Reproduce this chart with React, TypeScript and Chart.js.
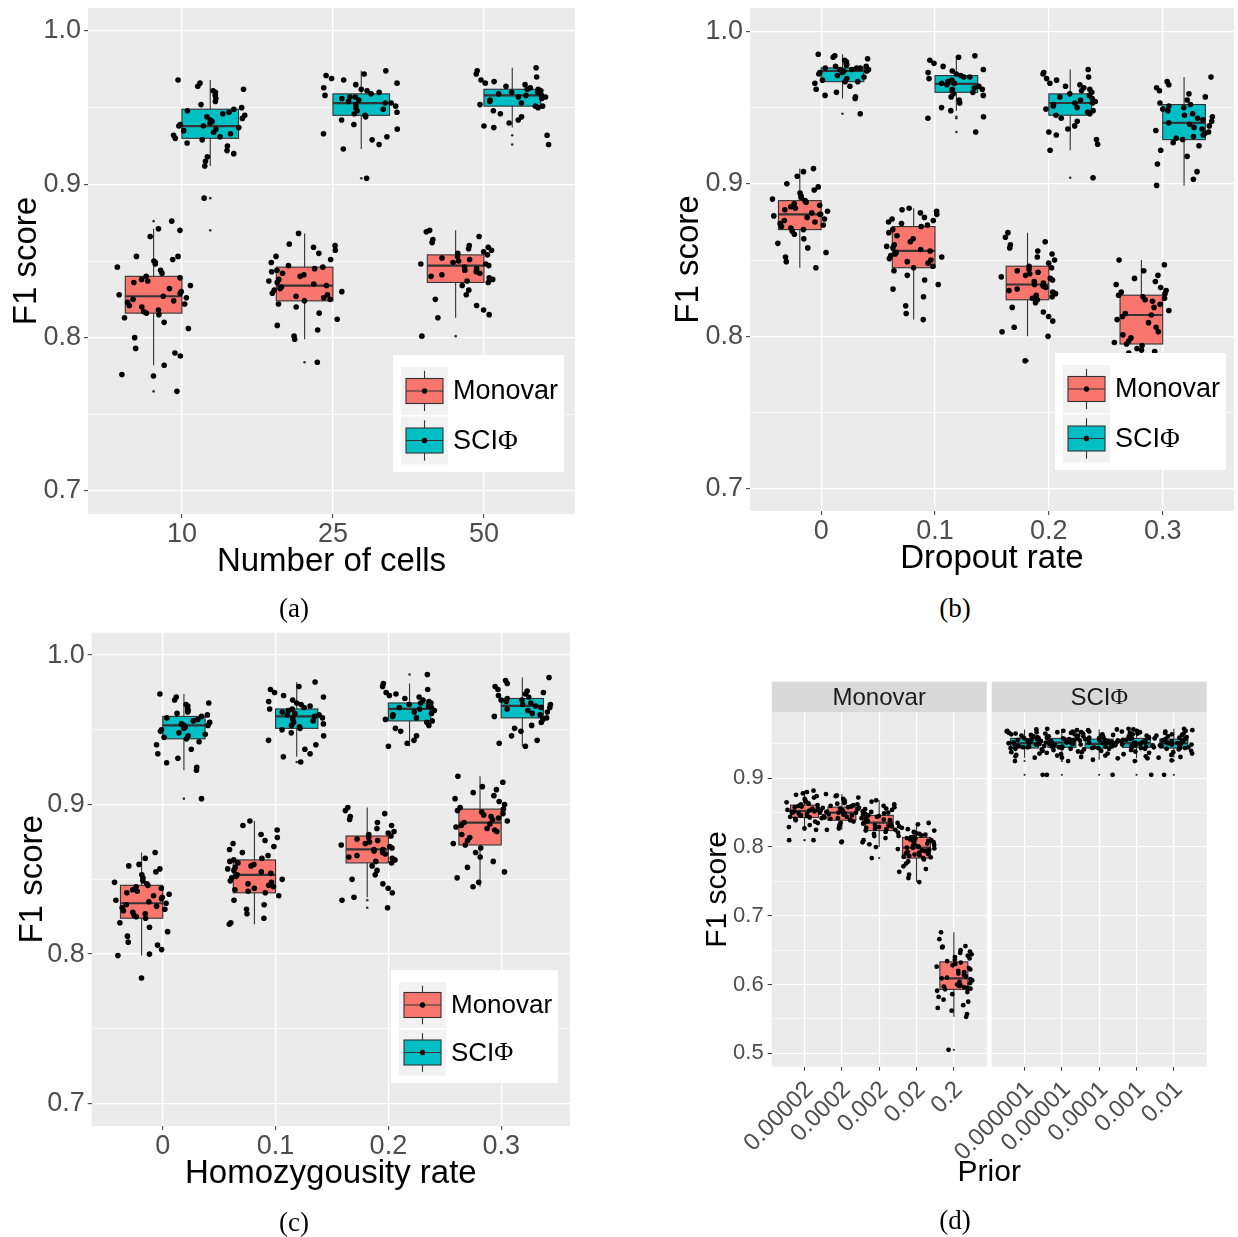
import React, { useEffect, useRef } from "react";
import { Chart, registerables } from "chart.js";

Chart.register(...registerables);

// ---------------- data ----------------
const methodNames = ["Monovar", "SCIΦ"];

// (a) number of cells
const cellCategories = ["10", "25", "50"];
// box stats: [lower whisker, Q1, median, Q3, upper whisker]
const cellsMonovarStats = [
  [0.782, 0.816, 0.827, 0.840, 0.871],
  [0.799, 0.824, 0.834, 0.846, 0.868],
  [0.813, 0.836, 0.847, 0.854, 0.870],
];
const cellsMonovarOutliers = [[0.876, 0.776, 0.775, 0.765], [0.784], [0.801]];
const cellsMonovarPoints = [
  [0.876, 0.871, 0.866, 0.853, 0.853, 0.851, 0.850, 0.849, 0.848, 0.846, 0.844, 0.842, 0.840, 0.839, 0.838, 0.837, 0.836, 0.834, 0.832, 0.830, 0.829, 0.828, 0.827, 0.826, 0.825, 0.824, 0.823, 0.822, 0.821, 0.820, 0.818, 0.817, 0.816, 0.815, 0.813, 0.810, 0.806, 0.800, 0.793, 0.790, 0.788, 0.782, 0.776, 0.775, 0.765],
  [0.868, 0.861, 0.860, 0.859, 0.857, 0.855, 0.853, 0.851, 0.849, 0.847, 0.846, 0.845, 0.844, 0.843, 0.842, 0.841, 0.840, 0.838, 0.837, 0.836, 0.835, 0.834, 0.833, 0.832, 0.831, 0.830, 0.829, 0.828, 0.827, 0.826, 0.825, 0.824, 0.822, 0.820, 0.816, 0.812, 0.808, 0.805, 0.801, 0.799, 0.784],
  [0.870, 0.869, 0.866, 0.864, 0.862, 0.860, 0.859, 0.858, 0.857, 0.856, 0.855, 0.854, 0.853, 0.852, 0.851, 0.850, 0.849, 0.848, 0.848, 0.847, 0.846, 0.845, 0.844, 0.843, 0.842, 0.841, 0.840, 0.839, 0.838, 0.837, 0.836, 0.834, 0.831, 0.828, 0.825, 0.821, 0.818, 0.815, 0.813, 0.801],
];
const cellsSciphiStats = [
  [0.912, 0.930, 0.938, 0.949, 0.968],
  [0.923, 0.945, 0.953, 0.959, 0.974],
  [0.937, 0.951, 0.958, 0.962, 0.976],
];
const cellsSciphiOutliers = [[0.891, 0.870], [0.904], [0.932, 0.926]];
const cellsSciphiPoints = [
  [0.968, 0.966, 0.964, 0.962, 0.961, 0.960, 0.958, 0.956, 0.954, 0.952, 0.950, 0.949, 0.948, 0.947, 0.946, 0.945, 0.944, 0.943, 0.942, 0.941, 0.940, 0.939, 0.938, 0.938, 0.937, 0.936, 0.935, 0.934, 0.933, 0.932, 0.931, 0.930, 0.929, 0.927, 0.925, 0.922, 0.920, 0.918, 0.915, 0.912, 0.891, 0.870],
  [0.974, 0.972, 0.971, 0.969, 0.968, 0.966, 0.965, 0.963, 0.962, 0.961, 0.960, 0.959, 0.958, 0.957, 0.957, 0.956, 0.955, 0.954, 0.953, 0.953, 0.952, 0.951, 0.950, 0.949, 0.948, 0.947, 0.946, 0.945, 0.944, 0.942, 0.939, 0.936, 0.933, 0.931, 0.929, 0.926, 0.923, 0.904],
  [0.976, 0.974, 0.972, 0.970, 0.968, 0.967, 0.966, 0.965, 0.964, 0.963, 0.962, 0.962, 0.961, 0.960, 0.960, 0.959, 0.958, 0.958, 0.957, 0.957, 0.956, 0.955, 0.954, 0.953, 0.952, 0.951, 0.951, 0.950, 0.948, 0.946, 0.944, 0.942, 0.940, 0.938, 0.937, 0.932, 0.926],
];

// (b) dropout rate
const dropoutCategories = ["0", "0.1", "0.2", "0.3"];
const dropoutMonovarStats = [
  [0.845, 0.870, 0.880, 0.889, 0.910],
  [0.811, 0.845, 0.856, 0.872, 0.884],
  [0.800, 0.824, 0.834, 0.846, 0.868],
  [0.772, 0.795, 0.814, 0.827, 0.850],
];
const dropoutMonovarOutliers = [[], [], [0.784], []];
const dropoutMonovarPoints = [
  [0.910, 0.908, 0.905, 0.900, 0.898, 0.896, 0.894, 0.892, 0.891, 0.890, 0.889, 0.888, 0.887, 0.886, 0.885, 0.884, 0.883, 0.882, 0.881, 0.880, 0.880, 0.879, 0.878, 0.877, 0.876, 0.875, 0.874, 0.873, 0.872, 0.871, 0.870, 0.869, 0.867, 0.864, 0.861, 0.858, 0.855, 0.852, 0.849, 0.845],
  [0.884, 0.883, 0.882, 0.881, 0.880, 0.878, 0.877, 0.876, 0.875, 0.874, 0.873, 0.872, 0.870, 0.868, 0.866, 0.864, 0.862, 0.860, 0.859, 0.858, 0.857, 0.856, 0.855, 0.854, 0.853, 0.852, 0.851, 0.850, 0.849, 0.848, 0.846, 0.845, 0.843, 0.840, 0.837, 0.834, 0.831, 0.826, 0.820, 0.815, 0.811],
  [0.868, 0.865, 0.862, 0.860, 0.858, 0.856, 0.854, 0.852, 0.850, 0.848, 0.846, 0.845, 0.844, 0.843, 0.842, 0.841, 0.840, 0.839, 0.838, 0.837, 0.836, 0.835, 0.834, 0.833, 0.832, 0.831, 0.830, 0.829, 0.828, 0.827, 0.826, 0.825, 0.824, 0.822, 0.819, 0.816, 0.813, 0.810, 0.806, 0.803, 0.800, 0.784],
  [0.850, 0.847, 0.843, 0.840, 0.838, 0.836, 0.834, 0.832, 0.830, 0.829, 0.828, 0.827, 0.826, 0.825, 0.824, 0.823, 0.821, 0.819, 0.817, 0.815, 0.814, 0.813, 0.811, 0.809, 0.806, 0.803, 0.801, 0.799, 0.797, 0.796, 0.795, 0.794, 0.792, 0.791, 0.790, 0.789, 0.786, 0.782, 0.778, 0.772],
];
const dropoutSciphiStats = [
  [0.956, 0.967, 0.974, 0.976, 0.985],
  [0.948, 0.960, 0.9655, 0.971, 0.984],
  [0.922, 0.945, 0.953, 0.959, 0.975],
  [0.899, 0.929, 0.940, 0.952, 0.970],
];
const dropoutSciphiOutliers = [[0.946], [0.944, 0.943, 0.934], [0.904], []];
const dropoutSciphiPoints = [
  [0.985, 0.984, 0.983, 0.982, 0.981, 0.980, 0.979, 0.978, 0.978, 0.977, 0.977, 0.976, 0.976, 0.976, 0.975, 0.975, 0.975, 0.974, 0.974, 0.974, 0.973, 0.973, 0.972, 0.971, 0.970, 0.969, 0.968, 0.967, 0.967, 0.966, 0.964, 0.962, 0.960, 0.958, 0.957, 0.956, 0.946],
  [0.984, 0.983, 0.981, 0.979, 0.977, 0.975, 0.974, 0.973, 0.972, 0.971, 0.970, 0.970, 0.969, 0.968, 0.967, 0.966, 0.966, 0.965, 0.964, 0.963, 0.962, 0.962, 0.961, 0.960, 0.959, 0.958, 0.957, 0.955, 0.953, 0.950, 0.948, 0.944, 0.943, 0.934],
  [0.975, 0.973, 0.972, 0.970, 0.969, 0.968, 0.966, 0.965, 0.964, 0.963, 0.962, 0.961, 0.960, 0.959, 0.958, 0.957, 0.956, 0.955, 0.954, 0.953, 0.953, 0.952, 0.951, 0.950, 0.949, 0.948, 0.947, 0.946, 0.945, 0.943, 0.941, 0.938, 0.936, 0.934, 0.932, 0.929, 0.926, 0.922, 0.904],
  [0.970, 0.967, 0.965, 0.963, 0.961, 0.959, 0.957, 0.955, 0.953, 0.952, 0.951, 0.950, 0.949, 0.948, 0.946, 0.945, 0.944, 0.943, 0.942, 0.941, 0.940, 0.939, 0.938, 0.937, 0.936, 0.935, 0.934, 0.933, 0.932, 0.931, 0.930, 0.929, 0.927, 0.925, 0.922, 0.918, 0.913, 0.908, 0.903, 0.899],
];

// (c) homozygousity rate
const homoCategories = ["0", "0.1", "0.2", "0.3"];
const homoMonovarStats = [
  [0.799, 0.824, 0.834, 0.846, 0.868],
  [0.820, 0.841, 0.853, 0.863, 0.889],
  [0.838, 0.861, 0.870, 0.879, 0.898],
  [0.845, 0.873, 0.888, 0.897, 0.919],
];
const homoMonovarOutliers = [[0.784], [], [0.836, 0.831], []];
const homoMonovarPoints = [
  [0.868, 0.864, 0.860, 0.859, 0.857, 0.855, 0.853, 0.851, 0.849, 0.848, 0.847, 0.846, 0.845, 0.844, 0.843, 0.842, 0.841, 0.840, 0.839, 0.838, 0.837, 0.836, 0.835, 0.834, 0.833, 0.832, 0.831, 0.830, 0.829, 0.828, 0.827, 0.826, 0.825, 0.824, 0.821, 0.818, 0.815, 0.812, 0.808, 0.806, 0.803, 0.800, 0.799, 0.784],
  [0.889, 0.886, 0.883, 0.880, 0.878, 0.876, 0.874, 0.872, 0.870, 0.868, 0.866, 0.864, 0.863, 0.862, 0.861, 0.860, 0.859, 0.858, 0.857, 0.856, 0.855, 0.854, 0.853, 0.852, 0.851, 0.850, 0.849, 0.848, 0.847, 0.846, 0.845, 0.844, 0.843, 0.842, 0.841, 0.839, 0.836, 0.833, 0.830, 0.827, 0.824, 0.821, 0.820],
  [0.898, 0.896, 0.894, 0.892, 0.890, 0.888, 0.886, 0.884, 0.882, 0.881, 0.880, 0.879, 0.878, 0.877, 0.876, 0.875, 0.874, 0.873, 0.872, 0.871, 0.870, 0.870, 0.869, 0.868, 0.867, 0.866, 0.865, 0.864, 0.863, 0.862, 0.861, 0.859, 0.856, 0.853, 0.850, 0.847, 0.844, 0.841, 0.838, 0.836, 0.831],
  [0.919, 0.915, 0.912, 0.910, 0.908, 0.906, 0.904, 0.902, 0.900, 0.898, 0.897, 0.896, 0.895, 0.894, 0.893, 0.892, 0.891, 0.890, 0.889, 0.888, 0.887, 0.886, 0.885, 0.884, 0.883, 0.882, 0.880, 0.878, 0.876, 0.874, 0.873, 0.871, 0.868, 0.865, 0.862, 0.858, 0.855, 0.851, 0.848, 0.845],
];
const homoSciphiStats = [
  [0.923, 0.944, 0.953, 0.959, 0.974],
  [0.932, 0.951, 0.959, 0.964, 0.982],
  [0.939, 0.956, 0.964, 0.968, 0.981],
  [0.939, 0.958, 0.966, 0.971, 0.985],
];
const homoSciphiOutliers = [[0.904], [0.9285], [0.987], []];
const homoSciphiPoints = [
  [0.974, 0.972, 0.970, 0.968, 0.967, 0.966, 0.964, 0.963, 0.962, 0.961, 0.960, 0.959, 0.958, 0.957, 0.956, 0.955, 0.954, 0.953, 0.953, 0.952, 0.951, 0.950, 0.949, 0.948, 0.947, 0.946, 0.945, 0.944, 0.942, 0.940, 0.937, 0.934, 0.931, 0.928, 0.925, 0.923, 0.904],
  [0.982, 0.979, 0.977, 0.975, 0.973, 0.972, 0.970, 0.969, 0.968, 0.967, 0.966, 0.965, 0.964, 0.964, 0.963, 0.962, 0.961, 0.960, 0.960, 0.959, 0.958, 0.958, 0.957, 0.956, 0.955, 0.954, 0.953, 0.952, 0.951, 0.950, 0.948, 0.946, 0.943, 0.940, 0.937, 0.934, 0.932, 0.9285],
  [0.987, 0.981, 0.979, 0.977, 0.975, 0.974, 0.973, 0.972, 0.971, 0.970, 0.969, 0.968, 0.968, 0.967, 0.966, 0.965, 0.965, 0.964, 0.963, 0.962, 0.961, 0.960, 0.959, 0.958, 0.957, 0.956, 0.955, 0.953, 0.951, 0.949, 0.946, 0.943, 0.941, 0.939],
  [0.985, 0.983, 0.981, 0.979, 0.977, 0.976, 0.975, 0.974, 0.973, 0.972, 0.971, 0.970, 0.970, 0.969, 0.968, 0.967, 0.967, 0.966, 0.965, 0.965, 0.964, 0.963, 0.962, 0.961, 0.960, 0.959, 0.958, 0.957, 0.955, 0.953, 0.951, 0.949, 0.946, 0.943, 0.941, 0.939],
];

// (d) prior
const monovarPriorCategories = ["0.00002", "0.0002", "0.002", "0.02", "0.2"];
const sciphiPriorCategories = ["0.000001", "0.00001", "0.0001", "0.001", "0.01"];
const priorMonovarStats = [
  [0.825, 0.843, 0.8525, 0.861, 0.882],
  [0.825, 0.839, 0.850, 0.858, 0.877],
  [0.800, 0.824, 0.8355, 0.846, 0.868],
  [0.749, 0.784, 0.799, 0.814, 0.835],
  [0.553, 0.593, 0.609, 0.633, 0.676],
];
const priorMonovarOutliers = [[0.810, 0.810], [0.808, 0.807], [0.784], [], [0.505]];
const priorMonovarPoints = [
  [0.882, 0.880, 0.878, 0.876, 0.874, 0.872, 0.870, 0.868, 0.866, 0.865, 0.864, 0.863, 0.862, 0.861, 0.860, 0.859, 0.858, 0.857, 0.856, 0.855, 0.855, 0.854, 0.853, 0.853, 0.852, 0.852, 0.851, 0.850, 0.850, 0.849, 0.848, 0.847, 0.846, 0.845, 0.844, 0.843, 0.842, 0.841, 0.839, 0.837, 0.835, 0.832, 0.829, 0.827, 0.825, 0.810, 0.810],
  [0.877, 0.875, 0.874, 0.872, 0.870, 0.868, 0.866, 0.865, 0.864, 0.863, 0.862, 0.861, 0.860, 0.859, 0.858, 0.857, 0.856, 0.855, 0.854, 0.853, 0.852, 0.851, 0.851, 0.850, 0.850, 0.849, 0.848, 0.847, 0.846, 0.845, 0.844, 0.843, 0.842, 0.841, 0.840, 0.839, 0.837, 0.835, 0.832, 0.829, 0.827, 0.825, 0.808, 0.807],
  [0.868, 0.866, 0.862, 0.860, 0.858, 0.856, 0.855, 0.854, 0.852, 0.851, 0.850, 0.849, 0.848, 0.847, 0.846, 0.845, 0.844, 0.843, 0.842, 0.841, 0.840, 0.839, 0.838, 0.837, 0.836, 0.835, 0.834, 0.833, 0.832, 0.831, 0.830, 0.829, 0.828, 0.827, 0.826, 0.825, 0.824, 0.822, 0.819, 0.816, 0.813, 0.810, 0.807, 0.804, 0.800, 0.784],
  [0.835, 0.833, 0.830, 0.828, 0.826, 0.824, 0.822, 0.821, 0.820, 0.819, 0.818, 0.817, 0.816, 0.815, 0.814, 0.813, 0.812, 0.811, 0.810, 0.809, 0.808, 0.807, 0.806, 0.805, 0.804, 0.803, 0.802, 0.801, 0.800, 0.799, 0.799, 0.798, 0.797, 0.796, 0.795, 0.794, 0.793, 0.792, 0.791, 0.790, 0.789, 0.788, 0.787, 0.786, 0.785, 0.784, 0.782, 0.779, 0.776, 0.772, 0.768, 0.764, 0.760, 0.755, 0.749],
  [0.676, 0.666, 0.656, 0.655, 0.654, 0.650, 0.648, 0.646, 0.644, 0.642, 0.640, 0.638, 0.636, 0.634, 0.632, 0.630, 0.628, 0.626, 0.624, 0.622, 0.620, 0.618, 0.616, 0.614, 0.612, 0.610, 0.609, 0.608, 0.606, 0.604, 0.602, 0.600, 0.599, 0.598, 0.597, 0.596, 0.595, 0.594, 0.593, 0.591, 0.589, 0.586, 0.582, 0.578, 0.575, 0.570, 0.566, 0.562, 0.557, 0.553, 0.505],
];
const priorSciphiStats = [
  [0.930, 0.944, 0.951, 0.958, 0.971],
  [0.930, 0.945, 0.952, 0.958, 0.972],
  [0.927, 0.944, 0.950, 0.957, 0.971],
  [0.929, 0.945, 0.951, 0.958, 0.972],
  [0.930, 0.944, 0.951, 0.957, 0.972],
];
const priorSciphiOutliers = [[0.925, 0.905], [0.925, 0.905], [0.905], [0.925, 0.905], [0.926, 0.905]];
const priorSciphiPoints = [
  [0.971, 0.969, 0.968, 0.967, 0.966, 0.965, 0.964, 0.963, 0.962, 0.961, 0.960, 0.959, 0.958, 0.958, 0.957, 0.956, 0.956, 0.955, 0.954, 0.954, 0.953, 0.952, 0.952, 0.951, 0.951, 0.950, 0.949, 0.949, 0.948, 0.947, 0.946, 0.945, 0.945, 0.944, 0.943, 0.942, 0.940, 0.938, 0.936, 0.934, 0.932, 0.930, 0.925, 0.905],
  [0.972, 0.970, 0.969, 0.968, 0.967, 0.966, 0.965, 0.964, 0.962, 0.961, 0.960, 0.959, 0.958, 0.958, 0.957, 0.957, 0.956, 0.955, 0.955, 0.954, 0.953, 0.953, 0.952, 0.952, 0.951, 0.950, 0.950, 0.949, 0.948, 0.947, 0.946, 0.946, 0.945, 0.944, 0.943, 0.941, 0.939, 0.937, 0.935, 0.933, 0.930, 0.925, 0.905],
  [0.971, 0.970, 0.968, 0.967, 0.965, 0.964, 0.963, 0.962, 0.961, 0.960, 0.959, 0.958, 0.957, 0.957, 0.956, 0.955, 0.955, 0.954, 0.953, 0.953, 0.952, 0.951, 0.951, 0.950, 0.950, 0.949, 0.948, 0.948, 0.947, 0.946, 0.945, 0.944, 0.944, 0.943, 0.942, 0.940, 0.938, 0.936, 0.933, 0.931, 0.929, 0.927, 0.905],
  [0.972, 0.971, 0.969, 0.968, 0.967, 0.966, 0.965, 0.964, 0.963, 0.962, 0.961, 0.960, 0.959, 0.958, 0.958, 0.957, 0.956, 0.956, 0.955, 0.954, 0.954, 0.953, 0.952, 0.952, 0.951, 0.951, 0.950, 0.949, 0.948, 0.948, 0.947, 0.946, 0.945, 0.945, 0.944, 0.943, 0.941, 0.939, 0.937, 0.935, 0.932, 0.929, 0.925, 0.905],
  [0.972, 0.970, 0.969, 0.968, 0.966, 0.965, 0.964, 0.963, 0.962, 0.961, 0.960, 0.959, 0.958, 0.957, 0.957, 0.956, 0.955, 0.955, 0.954, 0.953, 0.952, 0.952, 0.951, 0.951, 0.950, 0.949, 0.949, 0.948, 0.947, 0.946, 0.945, 0.944, 0.944, 0.943, 0.942, 0.940, 0.938, 0.936, 0.934, 0.931, 0.930, 0.926, 0.905],
];

const yTicksMain = [0.7, 0.75, 0.8, 0.85, 0.9, 0.95, 1.0];
const yTicksPrior = [0.5, 0.55, 0.6, 0.65, 0.7, 0.75, 0.8, 0.85, 0.9, 0.95];

// ---------------- styling / layout ----------------
const MONOVAR_FILL = "#F8766D";
const SCIPHI_FILL = "#00BFC4";
const SANS = "'Liberation Sans', Arial, sans-serif";
const SERIF = "'Liberation Serif', 'DejaVu Serif', serif";
const PANEL_BG = "#EBEBEB";

interface Group {
  x: number;
  width: number;
  fill: string;
  stats: number[];
  outliers: number[];
  points: number[];
}

interface PanelSpec {
  key: string;
  left: number; top: number; width: number; height: number;
  padding: { left: number; top: number; right: number; bottom: number };
  yAxisWidth: number; xAxisHeight: number;
  xMin: number; xMax: number; xTicks: number[]; xLabels: string[];
  yMin: number; yMax: number; yTicks: number[];
  xTitle: string; yTitle: string;
  titleSize: number; xTitlePad: number; yTitlePad: number;
  tickSize: number; xTickSize: number; xTickPad: number; yTickPad: number; xRotation: number; xLabelOffset: number;
  groups: Group[]; jitter: number; pointRadius: number; outlierRadius: number;
  majorWidth: number; minorWidth: number;
  legend?: { x: number; y: number; w: number; h: number; fontSize: number };
  facets?: { from: number; to: number; label: string }[];
  stripHeight?: number;
}

function dodged(
  n: number,
  mS: number[][], mO: number[][], mP: number[][],
  sS: number[][], sO: number[][], sP: number[][]
): Group[] {
  const out: Group[] = [];
  for (let i = 0; i < n; i++) {
    out.push({ x: i + 1 - 0.1875, width: 0.375, fill: MONOVAR_FILL, stats: mS[i], outliers: mO[i], points: mP[i] });
    out.push({ x: i + 1 + 0.1875, width: 0.375, fill: SCIPHI_FILL, stats: sS[i], outliers: sO[i], points: sP[i] });
  }
  return out;
}

const SCI_FACET_SHIFT = 5.894;
const priorTicks = [1, 2, 3, 4, 5, 1 + SCI_FACET_SHIFT, 2 + SCI_FACET_SHIFT, 3 + SCI_FACET_SHIFT, 4 + SCI_FACET_SHIFT, 5 + SCI_FACET_SHIFT];

function priorGroups(): Group[] {
  const out: Group[] = [];
  for (let i = 0; i < 5; i++) {
    out.push({ x: i + 1, width: 0.75, fill: MONOVAR_FILL, stats: priorMonovarStats[i], outliers: priorMonovarOutliers[i], points: priorMonovarPoints[i] });
  }
  for (let i = 0; i < 5; i++) {
    out.push({ x: i + 1 + SCI_FACET_SHIFT, width: 0.75, fill: SCIPHI_FILL, stats: priorSciphiStats[i], outliers: priorSciphiOutliers[i], points: priorSciphiPoints[i] });
  }
  return out;
}

const panels: PanelSpec[] = [
  {
    key: "a", left: 0, top: 0, width: 580, height: 592,
    padding: { left: 0, top: 8, right: 5, bottom: 0 },
    yAxisWidth: 88, xAxisHeight: 78,
    xMin: 0.378, xMax: 3.603, xTicks: [1, 2, 3], xLabels: cellCategories,
    yMin: 0.685, yMax: 1.015, yTicks: yTicksMain,
    xTitle: "Number of cells", yTitle: "F1 score",
    titleSize: 33, xTitlePad: 10, yTitlePad: 7,
    tickSize: 27, xTickSize: 27, xTickPad: 0, yTickPad: 3, xRotation: 0, xLabelOffset: 0,
    groups: dodged(3, cellsMonovarStats, cellsMonovarOutliers, cellsMonovarPoints, cellsSciphiStats, cellsSciphiOutliers, cellsSciphiPoints),
    jitter: 0.25, pointRadius: 2.8, outlierRadius: 1.3, majorWidth: 1.3, minorWidth: 0.65,
    legend: { x: 393, y: 355, w: 171, h: 117, fontSize: 27 },
  },
  {
    key: "b", left: 662, top: 0, width: 576, height: 592,
    padding: { left: 0, top: 8, right: 0, bottom: 0 },
    yAxisWidth: 88, xAxisHeight: 81,
    xMin: 0.375, xMax: 4.626, xTicks: [1, 2, 3, 4], xLabels: dropoutCategories,
    yMin: 0.6855, yMax: 1.0153, yTicks: yTicksMain,
    xTitle: "Dropout rate", yTitle: "F1 score",
    titleSize: 33, xTitlePad: 13, yTitlePad: 7,
    tickSize: 27, xTickSize: 27, xTickPad: 0, yTickPad: 3, xRotation: 0, xLabelOffset: 0,
    groups: dodged(4, dropoutMonovarStats, dropoutMonovarOutliers, dropoutMonovarPoints, dropoutSciphiStats, dropoutSciphiOutliers, dropoutSciphiPoints),
    jitter: 0.25, pointRadius: 2.8, outlierRadius: 1.3, majorWidth: 1.3, minorWidth: 0.65,
    legend: { x: 1055, y: 353, w: 171, h: 117, fontSize: 27 },
  },
  {
    key: "c", left: 4, top: 620, width: 570, height: 592,
    padding: { left: 0, top: 12.7, right: 4, bottom: 0 },
    yAxisWidth: 87.7, xAxisHeight: 86,
    xMin: 0.37, xMax: 4.61, xTicks: [1, 2, 3, 4], xLabels: homoCategories,
    yMin: 0.685, yMax: 1.015, yTicks: yTicksMain,
    xTitle: "Homozygousity rate", yTitle: "F1 score",
    titleSize: 33, xTitlePad: 18, yTitlePad: 9,
    tickSize: 27, xTickSize: 27, xTickPad: 0, yTickPad: 3, xRotation: 0, xLabelOffset: 0,
    groups: dodged(4, homoMonovarStats, homoMonovarOutliers, homoMonovarPoints, homoSciphiStats, homoSciphiOutliers, homoSciphiPoints),
    jitter: 0.25, pointRadius: 2.8, outlierRadius: 1.3, majorWidth: 1.3, minorWidth: 0.65,
    legend: { x: 391, y: 970, w: 167, h: 113, fontSize: 26 },
  },
  {
    key: "d", left: 700, top: 660, width: 538, height: 562,
    padding: { left: 0, top: 52.3, right: 31.3, bottom: 0 },
    yAxisWidth: 71.7, xAxisHeight: 155.3,
    xMin: 0.12, xMax: 11.774, xTicks: priorTicks, xLabels: [...monovarPriorCategories, ...sciphiPriorCategories],
    yMin: 0.4805, yMax: 0.996, yTicks: yTicksPrior,
    xTitle: "Prior", yTitle: "F1 score",
    titleSize: 30, xTitlePad: 31, yTitlePad: 0,
    tickSize: 22, xTickSize: 24, xTickPad: 5, yTickPad: 4, xRotation: 45, xLabelOffset: 5,
    groups: priorGroups(),
    jitter: 0.5, pointRadius: 2.4, outlierRadius: 1.1, majorWidth: 1.1, minorWidth: 0.55,
    facets: [
      { from: 0.12, to: 5.88, label: methodNames[0] },
      { from: 6.014, to: 11.774, label: methodNames[1] },
    ],
    stripHeight: 30.6,
  },
];

const captions = [
  { text: "(a)", x: 294, y: 608 },
  { text: "(b)", x: 955, y: 608 },
  { text: "(c)", x: 294, y: 1222 },
  { text: "(d)", x: 955, y: 1220 },
];

// ---------------- drawing helpers ----------------
const isMajor = (v: number) => Math.abs(v * 10 - Math.round(v * 10)) < 1e-6;
// deterministic horizontal jitter (a layout offset, not a data value)
const jitterOffset = (i: number, seed: number) => {
  const h = Math.sin((i + 1) * 12.9898 + (seed + 1) * 78.233) * 43758.5453;
  return (h - Math.floor(h)) * 2 - 1;
};

function drawMixed(ctx: CanvasRenderingContext2D, text: string, x: number, y: number, size: number, color: string, align: "left" | "center") {
  const segs: { t: string; f: string }[] = [];
  for (const ch of text) {
    const f = ch === "Φ" ? `${size}px ${SERIF}` : `${size}px ${SANS}`;
    if (segs.length && segs[segs.length - 1].f === f) segs[segs.length - 1].t += ch;
    else segs.push({ t: ch, f });
  }
  let total = 0;
  for (const s of segs) { ctx.font = s.f; total += ctx.measureText(s.t).width; }
  let cx = align === "center" ? x - total / 2 : x;
  ctx.fillStyle = color;
  ctx.textBaseline = "middle";
  ctx.textAlign = "left";
  for (const s of segs) {
    ctx.font = s.f;
    ctx.fillText(s.t, cx, y);
    cx += ctx.measureText(s.t).width;
  }
}

function makePlugin(spec: PanelSpec) {
  return {
    id: "panelDecor" + spec.key,
    beforeDraw(chart: any) {
      const { ctx, chartArea } = chart;
      const xs = chart.scales.x;
      ctx.save();
      ctx.fillStyle = PANEL_BG;
      if (spec.facets) {
        for (const f of spec.facets) {
          const x0 = xs.getPixelForValue(f.from);
          const x1 = xs.getPixelForValue(f.to);
          ctx.fillStyle = PANEL_BG;
          ctx.fillRect(x0, chartArea.top, x1 - x0, chartArea.bottom - chartArea.top);
          const sh = spec.stripHeight || 30;
          ctx.fillStyle = "#D9D9D9";
          ctx.fillRect(x0, chartArea.top - sh, x1 - x0, sh);
          drawMixed(ctx, f.label, (x0 + x1) / 2, chartArea.top - sh / 2 + 1, 24, "#1A1A1A", "center");
        }
      } else {
        ctx.fillRect(chartArea.left, chartArea.top, chartArea.right - chartArea.left, chartArea.bottom - chartArea.top);
      }
      ctx.restore();
    },
    beforeDatasetsDraw(chart: any) {
      const { ctx } = chart;
      const xs = chart.scales.x;
      const ys = chart.scales.y;
      ctx.save();
      for (const g of spec.groups) {
        const cx = xs.getPixelForValue(g.x);
        const half = Math.abs(xs.getPixelForValue(g.x + g.width / 2) - cx);
        const [lw, q1, med, q3, uw] = g.stats.map((v) => ys.getPixelForValue(v));
        ctx.strokeStyle = "#333333";
        ctx.lineWidth = 1.1;
        ctx.beginPath();
        ctx.moveTo(cx, uw); ctx.lineTo(cx, q3);
        ctx.moveTo(cx, q1); ctx.lineTo(cx, lw);
        ctx.stroke();
        ctx.fillStyle = g.fill;
        ctx.fillRect(cx - half, q3, 2 * half, q1 - q3);
        ctx.strokeRect(cx - half, q3, 2 * half, q1 - q3);
        ctx.lineWidth = 2.2;
        ctx.beginPath();
        ctx.moveTo(cx - half, med); ctx.lineTo(cx + half, med);
        ctx.stroke();
      }
      ctx.restore();
    },
    afterDatasetsDraw(chart: any) {
      const L = spec.legend;
      if (!L) return;
      const { ctx } = chart;
      const x = L.x - spec.left;
      const y = L.y - spec.top;
      ctx.save();
      ctx.fillStyle = "#FFFFFF";
      ctx.fillRect(x, y, L.w, L.h);
      const fills = [MONOVAR_FILL, SCIPHI_FILL];
      const kh = (L.h - 21) / 2;
      const kw = 47;
      for (let i = 0; i < 2; i++) {
        const kx = x + 8;
        const ky = y + 12 + i * (kh + 1.5);
        ctx.fillStyle = "#F2F2F2";
        ctx.fillRect(kx, ky, kw, kh);
        const cx = kx + kw / 2;
        const cy = ky + kh / 2;
        ctx.strokeStyle = "#333333";
        ctx.lineWidth = 1.1;
        ctx.beginPath();
        ctx.moveTo(cx, cy - kh * 0.42); ctx.lineTo(cx, cy + kh * 0.42);
        ctx.stroke();
        ctx.fillStyle = fills[i];
        ctx.fillRect(kx + 5, cy - 12.5, kw - 10, 25);
        ctx.strokeRect(kx + 5, cy - 12.5, kw - 10, 25);
        ctx.beginPath();
        ctx.moveTo(kx + 5, cy); ctx.lineTo(kx + kw - 5, cy);
        ctx.stroke();
        ctx.fillStyle = "#000000";
        ctx.beginPath();
        ctx.arc(cx, cy, 2.7, 0, Math.PI * 2);
        ctx.fill();
        drawMixed(ctx, methodNames[i], kx + kw + 5, cy + 1, L.fontSize, "#000000", "left");
      }
      ctx.restore();
    },
  };
}

function buildConfig(spec: PanelSpec): any {
  const datasets: any[] = [];
  spec.groups.forEach((g, gi) => {
    datasets.push({
      type: "scatter",
      data: g.points.map((v, i) => ({ x: g.x + jitterOffset(i, gi) * spec.jitter, y: v })),
      pointRadius: spec.pointRadius,
      pointBackgroundColor: "#000000",
      pointBorderColor: "#000000",
      pointBorderWidth: 0,
      pointHoverRadius: spec.pointRadius,
    });
  });
  spec.groups.forEach((g) => {
    datasets.push({
      type: "scatter",
      data: g.outliers.map((v) => ({ x: g.x, y: v })),
      pointRadius: spec.outlierRadius,
      pointBackgroundColor: "#333333",
      pointBorderColor: "#333333",
      pointBorderWidth: 0,
    });
  });

  return {
    type: "scatter",
    data: { datasets },
    plugins: [makePlugin(spec)],
    options: {
      animation: false,
      responsive: false,
      devicePixelRatio: 1,
      events: [],
      layout: { padding: spec.padding },
      plugins: { legend: { display: false }, tooltip: { enabled: false } },
      scales: {
        x: {
          type: "linear",
          min: spec.xMin,
          max: spec.xMax,
          afterBuildTicks: (s: any) => { s.ticks = spec.xTicks.map((v) => ({ value: v })); },
          afterFit: (s: any) => {
            s.height = spec.xAxisHeight;
            s.paddingLeft = 0; s.paddingRight = 0; s.paddingTop = 0; s.paddingBottom = 0;
          },
          ticks: {
            autoSkip: false,
            minRotation: spec.xRotation,
            maxRotation: spec.xRotation,
            padding: spec.xTickPad,
            labelOffset: spec.xLabelOffset,
            color: "#4D4D4D",
            font: { family: SANS, size: spec.xTickSize },
            callback: (_v: any, i: number) => spec.xLabels[i] ?? "",
          },
          grid: {
            color: "#FFFFFF",
            lineWidth: spec.majorWidth,
            tickLength: 4,
            tickColor: "#333333",
            tickWidth: 1,
          },
          border: { display: false },
          title: {
            display: true,
            text: spec.xTitle,
            color: "#000000",
            font: { family: SANS, size: spec.titleSize },
            padding: { top: 0, bottom: spec.xTitlePad },
          },
        },
        y: {
          type: "linear",
          min: spec.yMin,
          max: spec.yMax,
          afterBuildTicks: (s: any) => { s.ticks = spec.yTicks.map((v) => ({ value: v })); },
          afterFit: (s: any) => {
            s.width = spec.yAxisWidth;
            s.paddingLeft = 0; s.paddingRight = 0; s.paddingTop = 0; s.paddingBottom = 0;
          },
          ticks: {
            autoSkip: false,
            padding: spec.yTickPad,
            color: "#4D4D4D",
            font: { family: SANS, size: spec.tickSize },
            callback: (v: any) => (isMajor(Number(v)) ? Number(v).toFixed(1) : ""),
          },
          grid: {
            color: "#FFFFFF",
            lineWidth: (c: any) => (c.tick && isMajor(c.tick.value) ? spec.majorWidth : spec.minorWidth),
            tickLength: 4,
            tickColor: (c: any) => (c.tick && isMajor(c.tick.value) ? "#333333" : "rgba(0,0,0,0)"),
            tickWidth: 1,
          },
          border: { display: false },
          title: {
            display: true,
            text: spec.yTitle,
            color: "#000000",
            font: { family: SANS, size: spec.titleSize },
            padding: { top: spec.yTitlePad, bottom: 0 },
          },
        },
      },
    },
  };
}

function Panel({ spec }: { spec: PanelSpec }) {
  const ref = useRef<HTMLCanvasElement>(null);
  useEffect(() => {
    if (!ref.current) return;
    const chart = new Chart(ref.current, buildConfig(spec));
    return () => chart.destroy();
  }, [spec]);
  return (
    <canvas
      ref={ref}
      width={spec.width}
      height={spec.height}
      style={{ position: "absolute", left: spec.left, top: spec.top, width: spec.width, height: spec.height }}
    />
  );
}

export default function App() {
  useEffect(() => {
    document.body.style.margin = "0";
  }, []);
  return (
    <div style={{ position: "absolute", left: 0, top: 0, width: 1238, height: 1237, background: "#FFFFFF", overflow: "hidden" }}>
      {panels.map((p) => (
        <Panel key={p.key} spec={p} />
      ))}
      {captions.map((c) => (
        <div
          key={c.text}
          style={{
            position: "absolute",
            left: c.x - 40,
            top: c.y - 16,
            width: 80,
            textAlign: "center",
            fontFamily: SERIF,
            fontSize: 27,
            lineHeight: "32px",
            color: "#000",
          }}
        >
          {c.text}
        </div>
      ))}
    </div>
  );
}
